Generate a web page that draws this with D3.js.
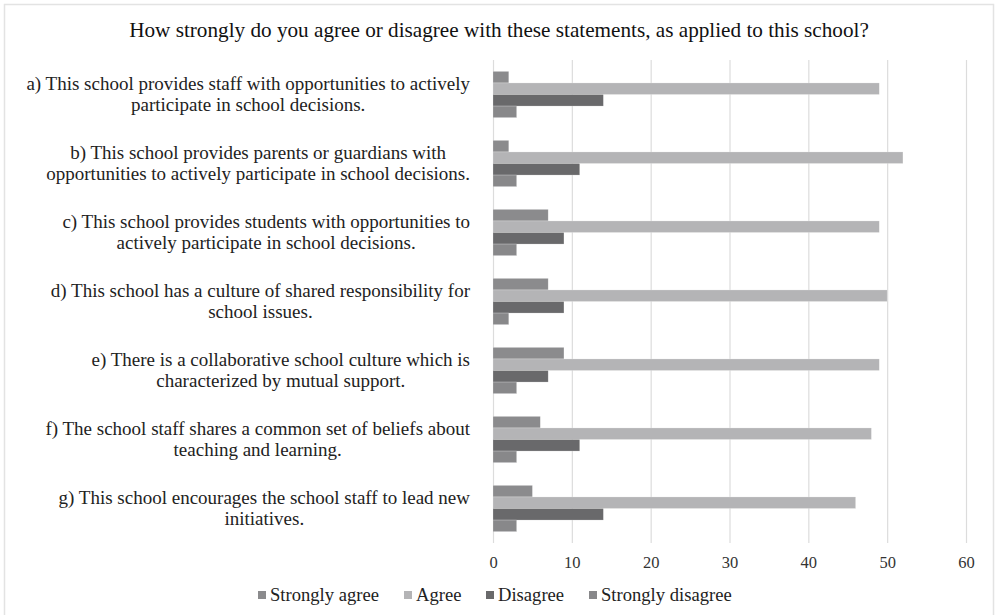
<!DOCTYPE html>
<html>
<head>
<meta charset="utf-8">
<script src="https://cdn.jsdelivr.net/npm/d3@7"></script>
<style>
  html, body { margin: 0; padding: 0; background: #fff; }
  svg { display: block; }
  text { font-family: "Liberation Serif", "Times New Roman", serif; }
</style>
</head>
<body>
<svg id="chart" width="995" height="615"></svg>
<script>
const title = "How strongly do you agree or disagree with these statements, as applied to this school?";
const categories = [
  ["a) This school provides staff with opportunities to actively", "participate in school decisions."],
  ["b) This school provides parents or guardians with", "opportunities to actively participate in school decisions."],
  ["c) This school provides students with opportunities to", "actively participate in school decisions."],
  ["d) This school has a culture of shared responsibility for", "school issues."],
  ["e) There is a collaborative school culture which is", "characterized by mutual support."],
  ["f) The school staff shares a common set of beliefs about", "teaching and learning."],
  ["g) This school encourages the school staff to lead new", "initiatives."]
];
const seriesNames = ["Strongly agree", "Agree", "Disagree", "Strongly disagree"];
const stronglyAgree    = [2, 2, 7, 7, 9, 6, 5];
const agree            = [49, 52, 49, 50, 49, 48, 46];
const disagree         = [14, 11, 9, 9, 7, 11, 14];
const stronglyDisagree = [3, 3, 3, 2, 3, 3, 3];
const xTicks = [0, 10, 20, 30, 40, 50, 60];
const colors = ["#8b8b8d", "#b4b4b6", "#69696b", "#88888a"];

const seriesValues = [stronglyAgree, agree, disagree, stronglyDisagree];
const svg = d3.select("#chart");
const FONT = "'Liberation Serif', 'Times New Roman', serif";

// outer frame
svg.append("rect").attr("x", 4.5).attr("y", 4.5).attr("width", 989).attr("height", 620)
  .attr("fill", "none").attr("stroke", "#e3e3e3").attr("stroke-width", 1.5);

// title
svg.append("text").attr("x", 499).attr("y", 37).attr("text-anchor", "middle")
  .attr("font-family", FONT).attr("font-size", 21.2).attr("fill", "#111").text(title);

const x = d3.scaleLinear().domain([0, 60]).range([493, 966]);
const catIdx = d3.range(categories.length);
const y = d3.scaleBand().domain(catIdx).range([60, 543]).paddingInner(0.33).paddingOuter(0.165);
const ySub = d3.scaleBand().domain(d3.range(seriesNames.length)).range([0, y.bandwidth()]);

// gridlines
svg.append("g").selectAll("line").data(xTicks).join("line")
  .attr("x1", d => x(d) + 0.5).attr("x2", d => x(d) + 0.5)
  .attr("y1", 60).attr("y2", 543)
  .attr("stroke", "#dcdcdc").attr("stroke-width", 1.2);

// x axis labels
const xAxis = d3.axisBottom(x).tickValues(xTicks).tickSize(0).tickPadding(0);
const gx = svg.append("g").attr("transform", "translate(0,556)").call(xAxis);
gx.select(".domain").remove();
gx.selectAll("text").attr("font-size", 16.5).attr("fill", "#333")
  .attr("font-family", FONT).style("font-family", FONT);

// bars
const groups = svg.append("g").selectAll("g").data(catIdx).join("g")
  .attr("transform", i => `translate(0,${y(i)})`);
groups.selectAll("rect").data(i => seriesValues.map((s, k) => ({k, v: s[i]}))).join("rect")
  .attr("x", x(0))
  .attr("y", d => ySub(d.k))
  .attr("width", d => x(d.v) - x(0))
  .attr("height", ySub.bandwidth())
  .attr("fill", d => colors[d.k])
  .attr("stroke", "#fff").attr("stroke-opacity", 0.35).attr("stroke-width", 0.6);

// category labels (centered lines, block right-aligned at 470)
const labG = svg.append("g");
categories.forEach((lines, i) => {
  const cy = y(i) + y.bandwidth() / 2;
  const t = labG.append("text").attr("font-family", FONT).attr("font-size", 19)
    .attr("fill", "#222").attr("text-anchor", "middle");
  const lineH = 21;
  const spans = lines.map((ln, j) => t.append("tspan").attr("y", cy - (lines.length - 1) * lineH / 2 + j * lineH + 5.5).text(ln));
  const widths = spans.map(s => s.node().getComputedTextLength());
  const maxW = d3.max(widths);
  spans.forEach(s => s.attr("x", 470 - maxW / 2));
});

// legend
const legendItems = [
  {name: seriesNames[0], sx: 258},
  {name: seriesNames[1], sx: 404},
  {name: seriesNames[2], sx: 486},
  {name: seriesNames[3], sx: 589}
];
const lg = svg.append("g");
legendItems.forEach((d, k) => {
  lg.append("rect").attr("x", d.sx).attr("y", 591).attr("width", 8).attr("height", 8).attr("fill", colors[k]);
  lg.append("text").attr("x", d.sx + 12).attr("y", 601).attr("font-family", FONT)
    .attr("font-size", 18.6).attr("fill", "#222").text(d.name);
});
</script>
</body>
</html>
